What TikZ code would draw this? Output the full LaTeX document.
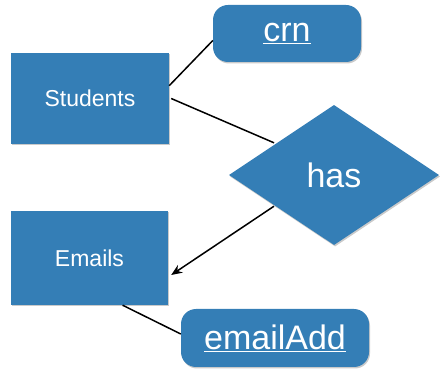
\documentclass[tikz,border=0pt]{standalone}
\usepackage{fontspec}
\setmainfont{Liberation Sans}
\usetikzlibrary{shapes.geometric,arrows.meta,calc,shadows}
\definecolor{erblue}{RGB}{52,126,182}
\begin{document}
\begin{tikzpicture}[x=1pt,y=-1pt,
  shade/.style={drop shadow={shadow xshift=1pt,shadow yshift=-1.5pt,opacity=0.35,fill=black!60}},
  entity/.style={shade,fill=erblue,draw=none,rectangle,inner sep=0pt,text=white,font=\fontsize{23}{26}\selectfont},
  attr/.style={shade,fill=erblue,draw=none,rectangle,rounded corners=15pt,inner sep=0pt,text=white,font=\fontsize{34}{38}\selectfont},
  rel/.style={shade,fill=erblue,draw=none,diamond,aspect=1.5,inner sep=0pt,minimum width=210pt,minimum height=140pt,text=white,font=\fontsize{34}{38}\selectfont},
  conn/.style={draw=black,line width=1.5pt},
  arr/.style={conn,-{Stealth[length=11pt,width=9pt]}}]
\useasboundingbox (0,0) rectangle (445,382);
\node[entity,minimum width=158pt,minimum height=91pt] (s) at (90,98.5) {Students};
\node[entity,minimum width=157pt,minimum height=94pt] (e) at (89.5,258) {Emails};
\node[attr,minimum width=148pt,minimum height=57pt] (c) at (287,33.5) {\underline{crn}};
\node[attr,minimum width=188pt,minimum height=58pt] (a) at (275,338) {\underline{emailAdd}};
\node[rel] (h) at (334,175) {has};
\coordinate (s1) at ($(s.north east)!0.36!(s.south east)+(0,0)$);
\coordinate (c1) at ($(c.west)+(0,7)$);
\draw[conn] (s1) -- (c1);
\coordinate (s2) at ($(s.east)+(2,0)$);
\coordinate (h1) at ($(h.west)!0.43!(h.north)+(0,-2)$);
\draw[conn] (s2) -- (h1);
\coordinate (h2) at ($(h.west)!0.43!(h.south)+(0,1)$);
\coordinate (e1) at ($(e.north east)!0.68!(e.south east)+(3,0)$);
\draw[arr] (h2) -- (e1);
\coordinate (e2) at ($(e.south west)!0.71!(e.south east)$);
\coordinate (a1) at ($(a.west)+(0,-4)$);
\draw[conn] (e2) -- (a1);
\end{tikzpicture}
\end{document}
